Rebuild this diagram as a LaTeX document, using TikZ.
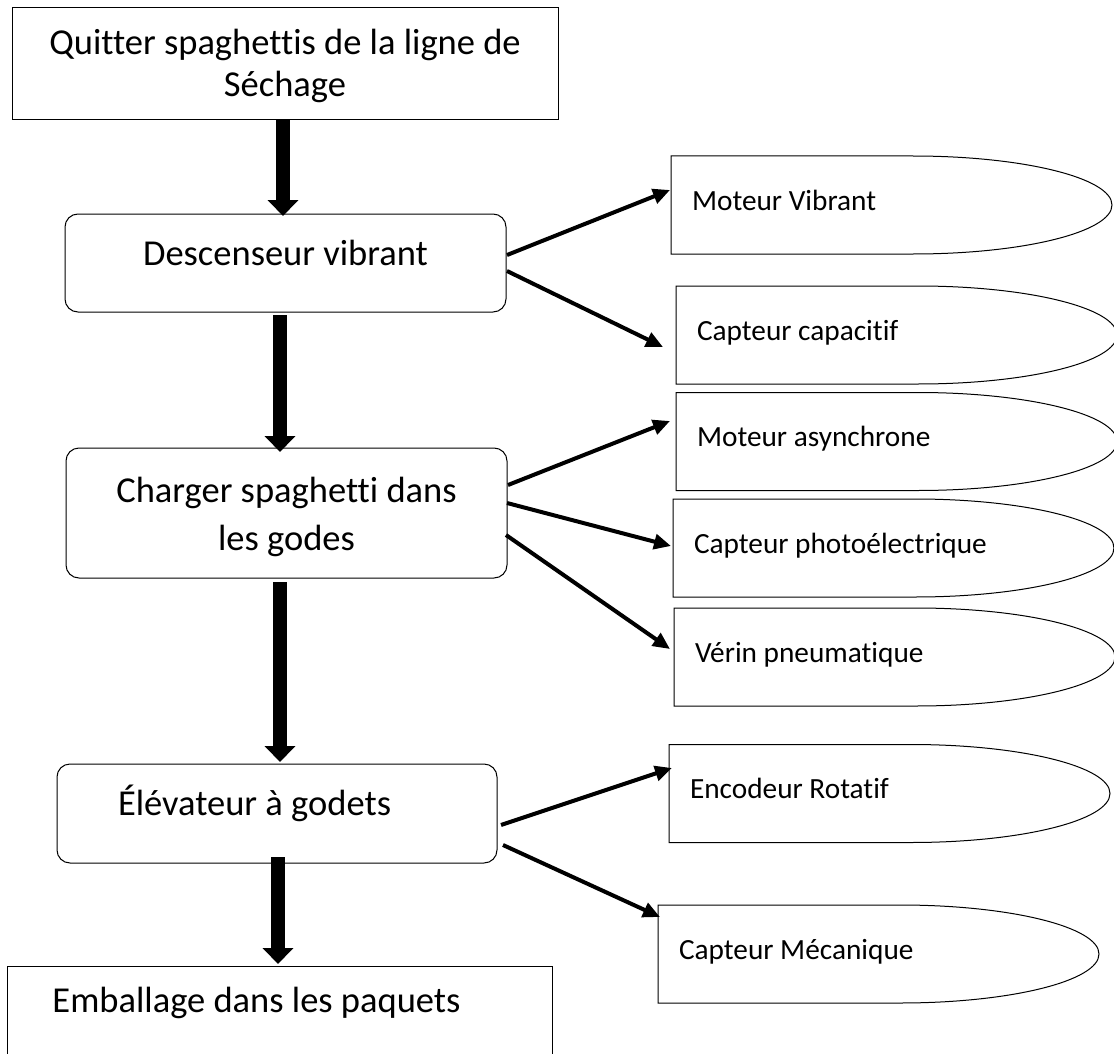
\documentclass[tikz,border=0pt]{standalone}
\usepackage{fontspec}
\setmainfont{Carlito}[Ligatures=NoCommon]
\usetikzlibrary{arrows.meta}

\begin{document}
\begin{tikzpicture}[
    x=1pt, y=1pt,
    etape/.style={rectangle, draw=black, line width=1pt, outer sep=0pt,
                  minimum width=441pt, minimum height=98pt, align=center,
                  font=\fontsize{36.5}{42}\selectfont, text height=26pt, text depth=22pt},
    etapebloc/.style={etape, rounded corners=13pt},
    capteur/.style={rectangle, outer sep=0pt, inner xsep=21pt, anchor=west,
                    minimum height=98pt,
                    font=\fontsize{29.3}{34}\selectfont, text height=20pt, text depth=10pt},
    grosse/.style={line width=14pt, -{Triangle[length=16pt, width=30pt]}},
    fleche/.style={line width=4pt, -{Triangle[length=17pt, width=15pt]}}
]
\useasboundingbox (0,0) rectangle (1114,-1054);

% --- Chaine principale ---
\node[etape, minimum width=546pt, minimum height=112pt, text height=70pt, text depth=4pt] (quit) at (285,-64)
    {Quitter spaghettis de la ligne de\\Séchage};
\node[etapebloc] (desc) at (285.5,-263) {Descenseur vibrant};
\node[etapebloc, minimum height=130pt, text height=75pt, text depth=1pt,
      font=\fontsize{36.5}{48}\selectfont] (charg) at (286.5,-513)
    {Charger spaghetti dans\\les godes};
\node[etapebloc, minimum width=440pt, minimum height=99pt, text depth=23pt] (elev) at (277,-813.5)
    {Élévateur à godets\hspace{45pt}};
\node[etape, minimum width=545pt, minimum height=109pt, text depth=43pt] (emba) at (279.5,-1020.5)
    {Emballage dans les paquets\hspace{46pt}};

% --- Capteurs et actionneurs ---
\node[capteur] (mvib) at (671,-205) {Moteur Vibrant};
\node[capteur] (capa) at (676,-335) {Capteur capacitif};
\node[capteur] (masy) at (676,-441.5) {Moteur asynchrone};
\node[capteur] (phot) at (673,-548) {Capteur photoélectrique};
\node[capteur] (veri) at (674,-657) {Vérin pneumatique};
\node[capteur] (enco) at (669,-793.5) {Encodeur Rotatif};
\node[capteur] (meca) at (658,-954) {Capteur Mécanique};

\foreach \n in {mvib,capa,masy,phot,veri,enco,meca}
  \draw[line width=1pt] (\n.north west) -- ++(242,0)
    arc[start angle=90, end angle=-90, x radius=199pt, y radius=49pt] -- (\n.south west) -- cycle;

% --- Fleches principales ---
\draw[grosse] ([xshift=-2pt]quit.south) -- ([xshift=-2.5pt,yshift=-2pt]desc.north);
\draw[grosse] ([xshift=-5.5pt,yshift=-3pt]desc.south) -- ([xshift=-6.5pt,yshift=-4pt]charg.north);
\draw[grosse] ([xshift=-6.5pt,yshift=-4pt]charg.south) -- ([xshift=3pt,yshift=2pt]elev.north);
\draw[grosse] ([xshift=1pt,yshift=6pt]elev.south) -- ([xshift=-1.5pt,yshift=2pt]emba.north);

% --- Fleches vers les capteurs ---
\draw[fleche] ([xshift=1pt,yshift=8pt]desc.east) -- ([xshift=-1pt,yshift=15pt]mvib.west);
\draw[fleche] ([xshift=1pt,yshift=-8pt]desc.east) -- ([xshift=-13pt,yshift=-12pt]capa.west);
\draw[fleche] ([xshift=1pt,yshift=28pt]charg.east) -- ([xshift=-6pt,yshift=20.5pt]masy.west);
\draw[fleche] ([yshift=10pt]charg.east) -- ([xshift=-2pt,yshift=2pt]phot.west);
\draw[fleche] ([xshift=-1pt,yshift=-22pt]charg.east) -- ([xshift=-4pt,yshift=8pt]veri.west);
\draw[fleche] ([xshift=4pt,yshift=-11.5pt]elev.east) -- ([xshift=3pt,yshift=25.5pt]enco.west);
\draw[fleche] ([xshift=6pt,yshift=-31.5pt]elev.east) -- ([xshift=2pt,yshift=37pt]meca.west);

\end{tikzpicture}
\end{document}
